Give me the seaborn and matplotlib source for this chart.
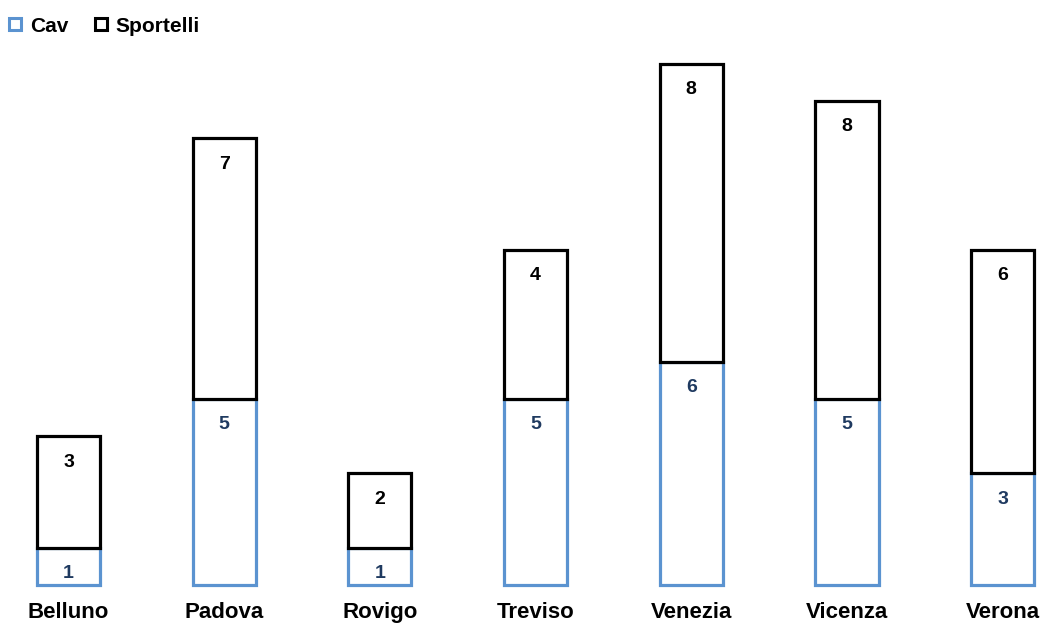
import matplotlib
matplotlib.use("Agg")
import matplotlib.pyplot as plt
from matplotlib.lines import Line2D
import seaborn as sns
import pandas as pd

# Province names and counts per service type
provinces = ["Belluno", "Padova", "Rovigo", "Treviso", "Venezia", "Vicenza", "Verona"]
cav = [1, 5, 1, 5, 6, 5, 3]
sportelli = [3, 7, 2, 4, 8, 8, 6]

CAV_EDGE = "#5B93D0"
CAV_TEXT = "#1F3A60"
SPORT_EDGE = "#000000"

sns.set_theme(style="white")
plt.rcParams["font.family"] = ["Liberation Sans", "DejaVu Sans"]
plt.rcParams["font.weight"] = "bold"
plt.rcParams["text.color"] = "black"

df = pd.DataFrame({"provincia": provinces, "Cav": cav, "Sportelli": sportelli})

fig = plt.figure(figsize=(10.42, 6.24), dpi=100)
# axes spanning the full width; bottom edge sits on the baseline of the bars
ax = fig.add_axes([0, 39 / 624, 1, 545 / 624])

sns.barplot(data=df, x="provincia", y="Cav", order=provinces, ax=ax,
            color="white", edgecolor=CAV_EDGE, linewidth=2.3, width=0.405,
            zorder=2)
sns.barplot(data=df, x="provincia", y="Sportelli", order=provinces, ax=ax,
            bottom=df["Cav"].values, color="white", edgecolor=SPORT_EDGE,
            linewidth=2.3, width=0.405, zorder=3)

for container in ax.containers:
    for bar in container:
        bar.set_clip_on(False)

ax.bar_label(ax.containers[0], labels=[str(v) for v in cav], padding=-25,
             fontsize=14, fontweight="bold", color=CAV_TEXT, zorder=4)
ax.bar_label(ax.containers[1], labels=[str(v) for v in sportelli], padding=-25,
             fontsize=14, fontweight="bold", color="black", zorder=4)

step = 155.7
ax.set_xlim(-68.5 / step, (1042 - 68.5) / step)
ax.set_ylim(0, 545 / 37.25)
ax.set_xlabel("")
ax.set_ylabel("")
ax.set_yticks([])
ax.tick_params(axis="x", length=0, pad=12, labelsize=16)
for lbl in ax.get_xticklabels():
    lbl.set_fontweight("bold")
    lbl.set_color("black")
for s in ax.spines.values():
    s.set_visible(False)

handles = [
    Line2D([], [], marker="s", linestyle="none", markersize=8,
           markerfacecolor="white", markeredgecolor=CAV_EDGE, markeredgewidth=2.2),
    Line2D([], [], marker="s", linestyle="none", markersize=8,
           markerfacecolor="white", markeredgecolor=SPORT_EDGE, markeredgewidth=2.2),
]
leg = fig.legend(handles, ["Cav", "Sportelli"], loc="center left",
                 bbox_to_anchor=(8 / 1042, 1 - 26 / 624), ncol=2, frameon=False,
                 borderpad=0, borderaxespad=0, handlelength=0.7,
                 handletextpad=0.35, columnspacing=1.2,
                 prop={"size": 15, "weight": "bold"})
for t in leg.get_texts():
    t.set_color("black")

fig.savefig("out.png", dpi=100, facecolor="white")
